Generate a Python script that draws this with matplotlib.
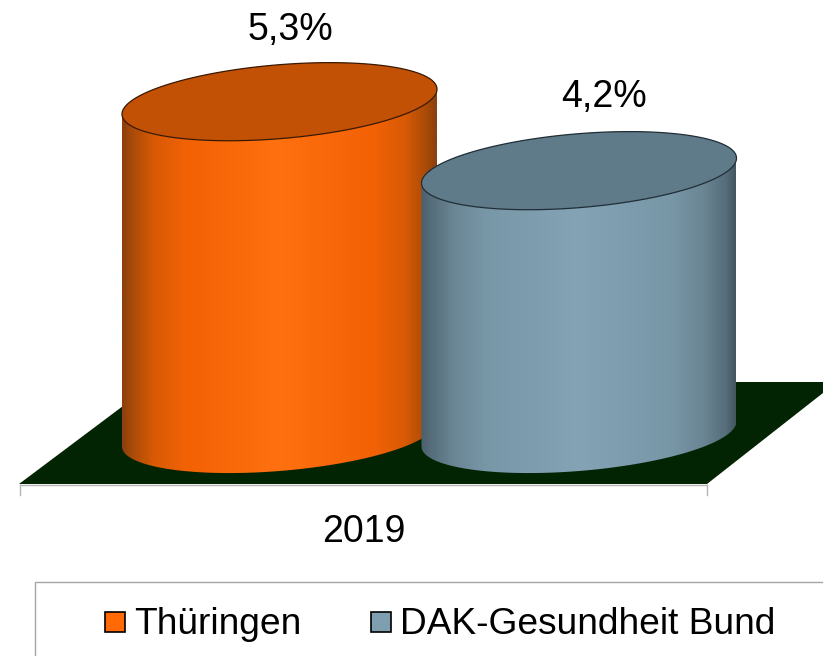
import numpy as np
import matplotlib
matplotlib.use("Agg")
import matplotlib.pyplot as plt
from matplotlib.colors import LinearSegmentedColormap
from matplotlib.patches import Polygon, Rectangle

plt.rcParams['font.family'] = ['Liberation Sans', 'DejaVu Sans']

categories = ['2019']
series_names = ['Thüringen', 'DAK-Gesundheit Bund']
values = [5.3, 4.2]
value_labels = ['5,3%', '4,2%']

side_stops = [0, 0.03, 0.1, 0.2, 0.5, 0.8, 0.9, 0.97, 1]
side_colors = [
    ['#8a4010', '#a84a08', '#d85a05', '#f26205', '#ff7010', '#f26205', '#d85a05', '#a84a08', '#8a4010'],
    ['#4c606c', '#566d7a', '#6a8594', '#7796a6', '#84a3b5', '#7796a6', '#6a8594', '#566d7a', '#445660'],
]
top_colors = ['#c25106', '#5f7a88']
edge_colors = ['#3a1800', '#1f2d36']
swatch_colors = ['#ff6a06', '#7f9fb0']

# the picture is drawn in pixel coordinates, y pointing down
base_y = 434
px_per_unit = 62.7
half_width = 157.5
minor = 37
tilt = -12.5
centers = [279.5, 579]
label_pos = [(290, 30), (604, 97)]


def rim(cx, cy, t):
    return cx + half_width * np.cos(t), cy + tilt * np.cos(t) + minor * np.sin(t)


def draw_cylinder(ax, cx, value, colors, top, edge, z):
    top_y = base_y - value * px_per_unit

    # side surface with horizontal shading
    t_low = np.linspace(np.pi, 0, 120)
    xb, yb = rim(cx, base_y, t_low)
    xt, yt = rim(cx, top_y, t_low[::-1])
    verts = np.column_stack([np.r_[xb, xt], np.r_[yb, yt]])
    outline = Polygon(verts, closed=True, facecolor='none', edgecolor='none',
                      transform=ax.transData)
    ax.add_patch(outline)
    cmap = LinearSegmentedColormap.from_list('side', list(zip(side_stops, colors)))
    grad = np.linspace(0, 1, 256).reshape(1, -1)
    im = ax.imshow(grad, cmap=cmap, aspect='auto', zorder=z,
                   extent=(cx - half_width, cx + half_width, base_y + 60, top_y - 60))
    im.set_clip_path(outline)

    # top surface
    t_all = np.linspace(0, 2 * np.pi, 240)
    xe, ye = rim(cx, top_y, t_all)
    ax.fill(xe, ye, facecolor=top, edgecolor=edge, linewidth=0.9, zorder=z + 1)


fig = plt.figure(figsize=(8.23, 6.56), dpi=100)
ax = fig.add_axes([0, 0, 1, 1])

# floor
ax.add_patch(Polygon([(19, 484), (707, 484), (837, 382), (155, 382)], closed=True,
                     facecolor='#032403', edgecolor='none', zorder=1))

# category axis
ax.plot([20, 707], [485, 485], color='#b5b5b5', lw=1, zorder=2)
ax.plot([20, 20], [485, 495], color='#b5b5b5', lw=1, zorder=2)
ax.plot([707, 707], [485, 495], color='#b5b5b5', lw=1, zorder=2)
ax.text(364, 532, categories[0], ha='center', va='center', fontsize=27, color='black')

for i in range(len(values)):
    draw_cylinder(ax, centers[i], values[i], side_colors[i], top_colors[i], edge_colors[i], 3 + 2 * i)
    ax.text(label_pos[i][0], label_pos[i][1], value_labels[i], ha='center', va='center',
            fontsize=27, color='black', zorder=20)

# legend box runs off the canvas like in the original
ax.add_patch(Rectangle((35, 582), 800, 90, facecolor='white', edgecolor='#a6a6a6',
                       lw=1, zorder=2))
swatch_x = [105, 371]
text_x = [134, 400]
for i in range(len(series_names)):
    ax.add_patch(Rectangle((swatch_x[i], 612), 20, 20, facecolor=swatch_colors[i],
                           edgecolor='black', lw=1.2, zorder=3))
    ax.text(text_x[i], 624, series_names[i], ha='left', va='center', fontsize=26.7, color='black')

ax.set_xlim(0, 823)
ax.set_ylim(656, 0)
ax.axis('off')
fig.savefig('out.png', dpi=100)
